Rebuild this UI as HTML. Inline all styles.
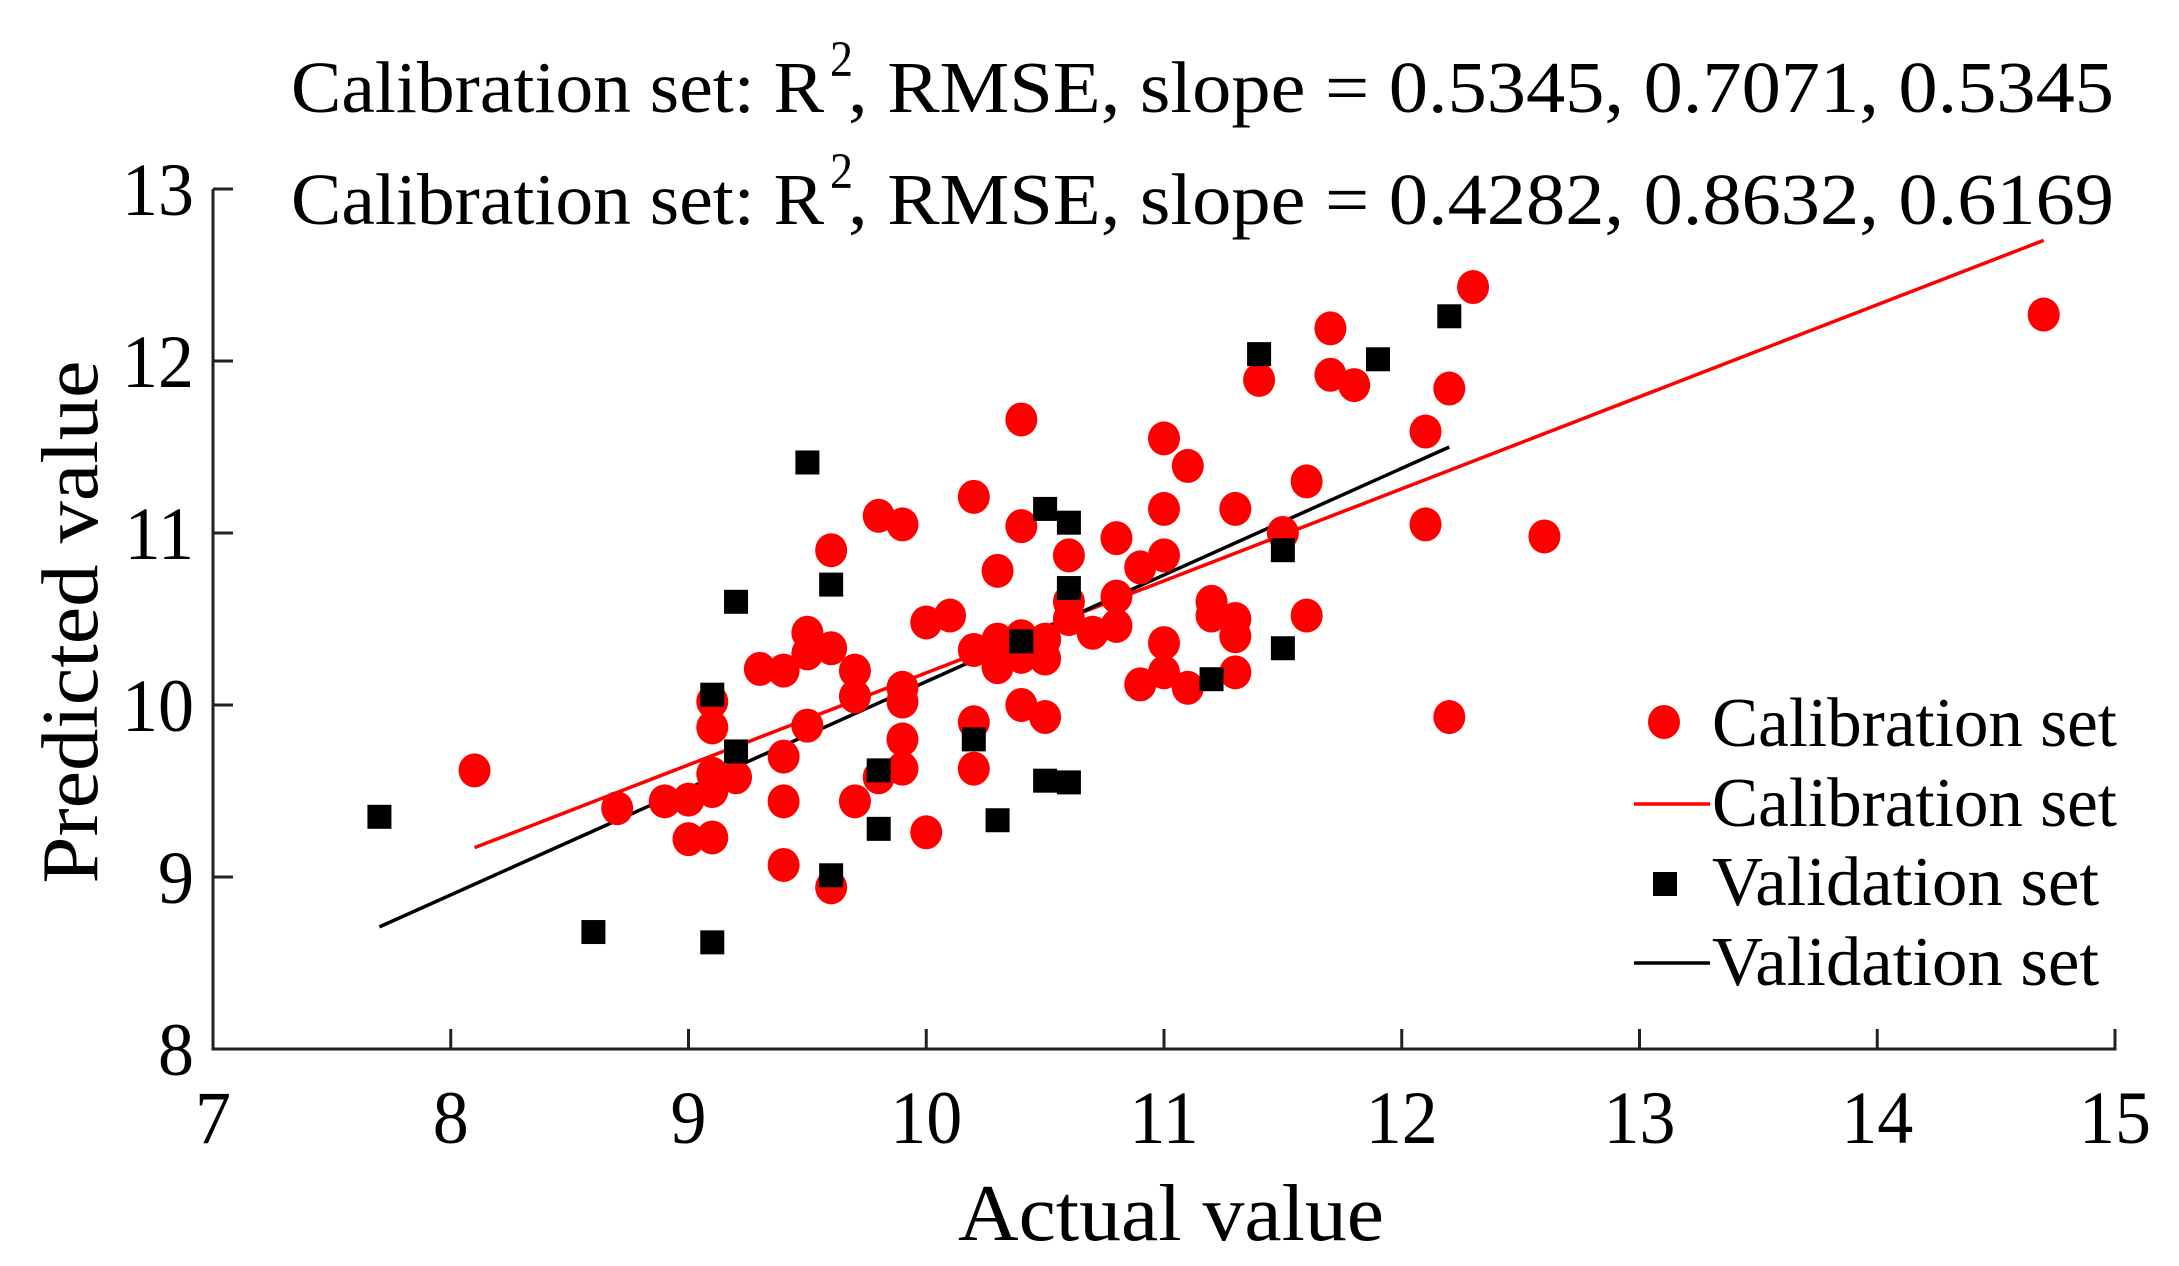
<!DOCTYPE html>
<html><head><meta charset="utf-8"><style>
html,body{margin:0;padding:0;background:#fff;}
svg{display:block;}
text{font-family:"Liberation Serif","Times New Roman",serif;fill:#000;}
</style></head><body>
<svg id="chart" width="2179" height="1266" viewBox="0 0 2179 1266" xmlns="http://www.w3.org/2000/svg"></svg>
<script>
const calX=[8.1,8.7,8.9,9.0,9.0,9.1,9.1,9.1,9.1,9.1,9.2,9.3,9.4,9.4,9.4,9.4,9.5,9.5,9.5,9.6,9.6,9.6,9.7,9.7,9.7,9.8,9.8,9.9,9.9,9.9,9.9,9.9,10.0,10.0,10.1,10.2,10.2,10.2,10.2,10.3,10.3,10.3,10.4,10.4,10.4,10.4,10.4,10.5,10.5,10.5,10.6,10.6,10.6,10.7,10.8,10.8,10.8,10.9,10.9,11.0,11.0,11.0,11.0,11.0,11.1,11.1,11.2,11.2,11.3,11.3,11.3,11.3,11.4,11.5,11.6,11.6,11.7,11.7,11.8,12.1,12.1,12.2,12.2,12.3,12.6,14.7];
const calY=[9.62,9.4,9.44,9.45,9.22,9.23,10.02,9.87,9.6,9.5,9.58,10.21,10.2,9.7,9.44,9.07,10.42,10.3,9.88,10.9,10.33,8.94,10.2,10.05,9.44,11.1,9.58,11.05,10.1,10.02,9.8,9.63,10.48,9.26,10.52,11.21,10.32,9.9,9.63,10.78,10.38,10.22,11.66,11.04,10.4,10.28,10.0,10.38,10.27,9.93,10.87,10.6,10.5,10.42,10.97,10.63,10.46,10.8,10.12,11.55,11.14,10.87,10.36,10.19,11.39,10.1,10.6,10.52,11.14,10.5,10.4,10.19,11.89,11.0,11.3,10.52,12.19,11.92,11.86,11.59,11.05,11.84,9.93,12.43,10.98,12.27];
const valX=[7.7,8.6,9.1,9.1,9.2,9.2,9.5,9.6,9.6,9.8,9.8,10.2,10.3,10.4,10.5,10.5,10.6,10.6,10.6,11.2,11.4,11.5,11.5,11.9,12.2];
const valY=[9.35,8.68,10.06,8.62,10.6,9.73,11.41,10.7,9.01,9.62,9.28,9.8,9.33,10.37,11.14,9.56,11.06,10.68,9.55,10.15,12.04,10.9,10.33,12.01,12.26];
const calFitX=[8.1,14.7];
const calFitCoef=[0.535,4.837];
const valFitX=[7.7,12.2];
const valFitCoef=[0.62,3.936];
const xTicks=[7,8,9,10,11,12,13,14,15];
const yTicks=[8,9,10,11,12,13];

const NS="http://www.w3.org/2000/svg";
const svg=document.getElementById('chart');
const X0=213,X1=2115,Y0=1049,Y1=189;
const sx=v=>X0+(v-7)/(15-7)*(X1-X0);
const sy=v=>Y0-(v-8)/(13-8)*(Y0-Y1);
function mk(tag,attrs,parent){const e=document.createElementNS(NS,tag);for(const k in attrs)e.setAttribute(k,attrs[k]);(parent||svg).appendChild(e);return e;}
function txt(s,x,y,size,scaleY,anchor,len){
  const t=mk('text',{x:0,y:0,'font-size':size,'text-anchor':anchor||'start',transform:`translate(${x},${y}) scale(1,${scaleY})`});
  if(len){t.setAttribute('textLength',len);t.setAttribute('lengthAdjust','spacingAndGlyphs');}
  t.textContent=s;return t;
}
const ax=mk('path',{d:`M${X0},${Y1} L${X0},${Y0} L${X1},${Y0} L${X1},${Y0-20}`,fill:'none',stroke:'#222','stroke-width':3});


xTicks.forEach(v=>{
  const l=mk('line',{x1:sx(v),x2:sx(v),y1:Y0,y2:Y0-20,stroke:'#222','stroke-width':3});
  
  
  const t=txt(String(v),sx(v),1143,72,1.05,'middle');
  
  
});
yTicks.forEach(v=>{
  const l=mk('line',{x1:X0,x2:X0+20,y1:sy(v),y2:sy(v),stroke:'#222','stroke-width':3});
  
  
  const t=txt(String(v),194,sy(v)+26,72,1.05,'end');
  
  
});
const cl=mk('line',{x1:sx(calFitX[0]),y1:sy(calFitCoef[0]*calFitX[0]+calFitCoef[1]),x2:sx(calFitX[1]),y2:sy(calFitCoef[0]*calFitX[1]+calFitCoef[1]),stroke:'#ff0000','stroke-width':3.5});


const vl=mk('line',{x1:sx(valFitX[0]),y1:sy(valFitCoef[0]*valFitX[0]+valFitCoef[1]),x2:sx(valFitX[1]),y2:sy(valFitCoef[0]*valFitX[1]+valFitCoef[1]),stroke:'#000','stroke-width':3.5});


calX.forEach((v,i)=>{
  const c=mk('ellipse',{cx:sx(v),cy:sy(calY[i]),rx:16,ry:17,fill:'#ff0000'});
  
  
});
valX.forEach((v,i)=>{
  const r=mk('rect',{x:sx(v)-12,y:sy(valY[i])-12,width:24,height:24,fill:'#000'});
  
  
});
function title(y,vals,name){
  const g=mk('g',{});
  
  
  const a=txt('Calibration set: R',291,y,66,1.1,'start',533);g.appendChild(a);
  const s=txt('2',830,y-36,46,1.1,'start');g.appendChild(s);
  const b=txt(', RMSE, slope = '+vals,848,y,66,1.1,'start',1266);g.appendChild(b);
}
title(112,'0.5345, 0.7071, 0.5345','title-line-1');
title(224,'0.4282, 0.8632, 0.6169','title-line-2');
const xl=txt('Actual value',1171,1240,80,1.0,'middle',426);


const yl=mk('text',{x:0,y:0,'font-size':80,'text-anchor':'middle',transform:'translate(97,622) rotate(-90)',textLength:523,lengthAdjust:'spacingAndGlyphs'});
yl.textContent='Predicted value';


const lg=mk('g',{});


mk('ellipse',{cx:1664,cy:722,rx:16,ry:17,fill:'#ff0000'},lg);
mk('line',{x1:1634,x2:1710,y1:804,y2:804,stroke:'#ff0000','stroke-width':3.5},lg);
mk('rect',{x:1653,y:872,width:24,height:24,fill:'#000'},lg);
mk('line',{x1:1634,x2:1710,y1:963,y2:963,stroke:'#000','stroke-width':3.5},lg);
[['Calibration set',746,405],['Calibration set',826,405],['Validation set',905,387],['Validation set',985,387]].forEach(d=>{
  const t=txt(d[0],1712,d[1],64,1.1,'start',d[2]);lg.appendChild(t);
  
  
});
</script>
</body></html>
